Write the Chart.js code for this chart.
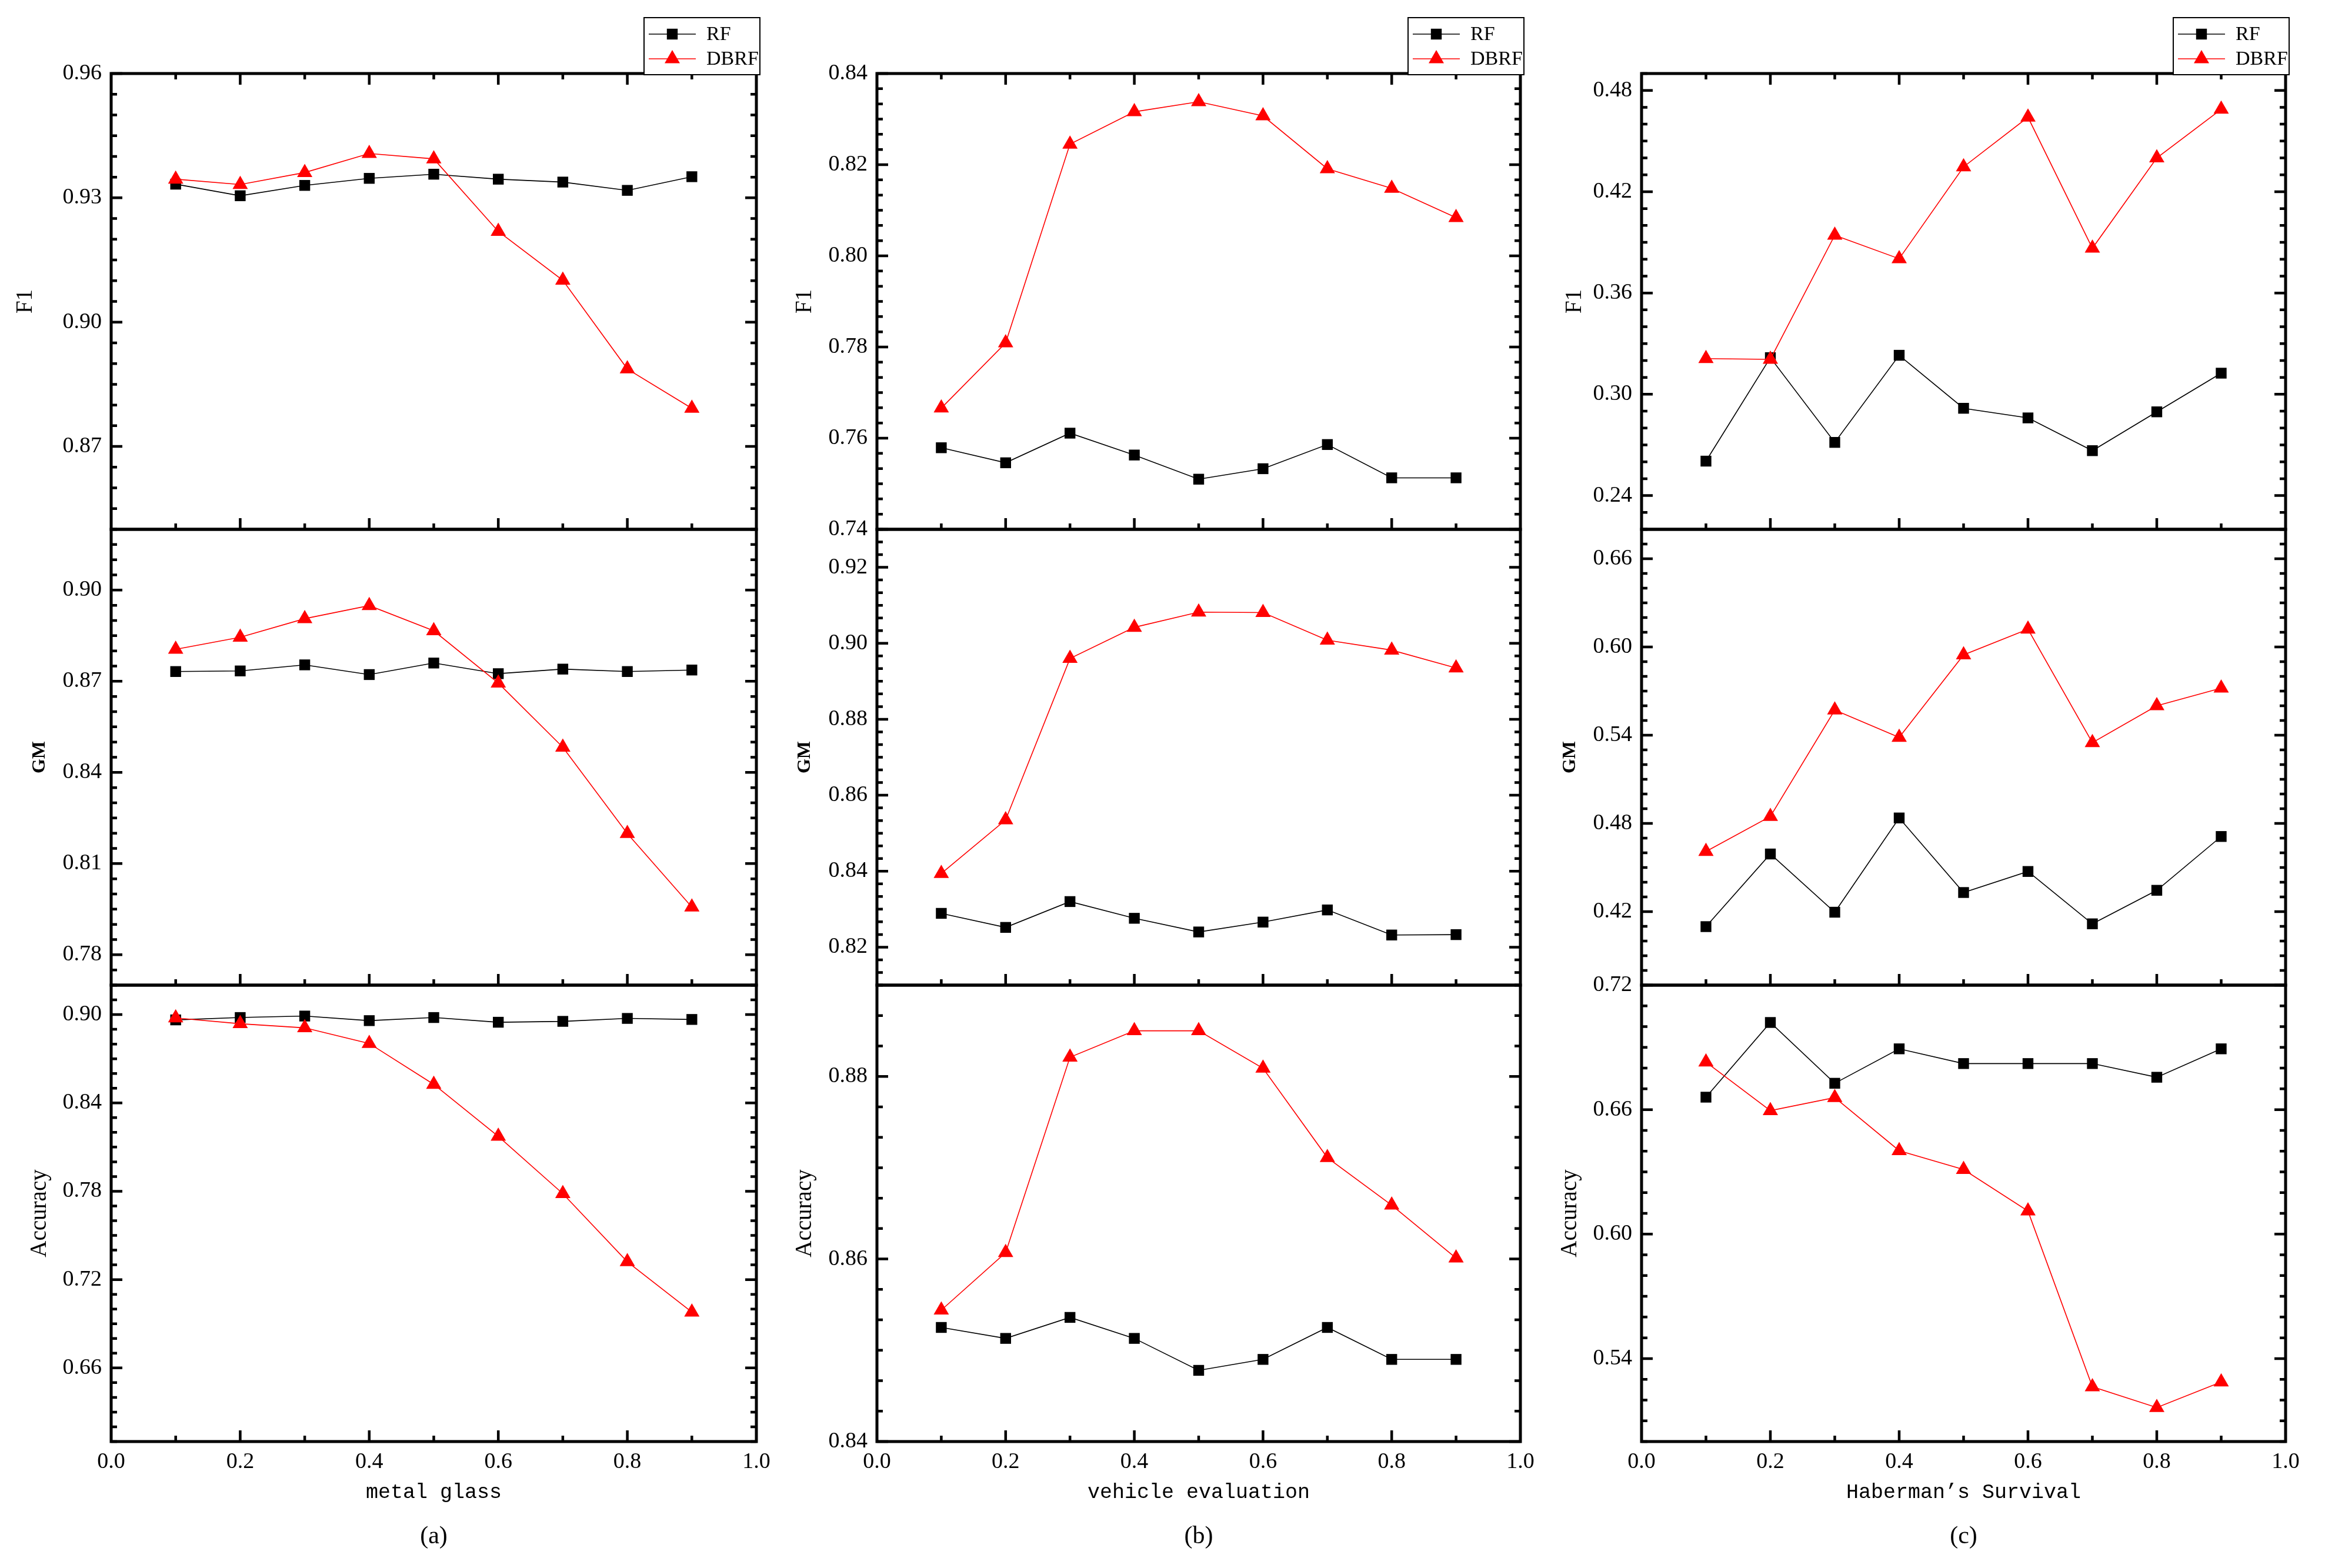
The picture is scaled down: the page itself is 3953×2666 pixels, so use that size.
<!DOCTYPE html>
<html>
<head>
<meta charset="utf-8">
<title>RF vs DBRF</title>
<script src="https://cdn.jsdelivr.net/npm/chart.js"></script>
<style>
  html, body { margin: 0; padding: 0; background: #fff; }
  body { width: 3953px; height: 2666px; position: relative; overflow: hidden; }
  canvas { position: absolute; }
</style>
</head>
<body>
<script>
const xValues = [0.1, 0.2, 0.3, 0.4, 0.5, 0.6, 0.7, 0.8, 0.9];
const xTicks = [0, 0.2, 0.4, 0.6, 0.8, 1.0];
const seriesNames = ["RF", "DBRF"];

// (a) metal glass
const glassF1Rf = [0.9333, 0.9305, 0.9330, 0.9347, 0.9357, 0.9345, 0.9338, 0.9318, 0.9351];
const glassF1Dbrf = [0.9345, 0.9332, 0.9361, 0.9407, 0.9394, 0.9219, 0.9101, 0.8887, 0.8792];
const glassGmRf = [0.8732, 0.8734, 0.8754, 0.8722, 0.8760, 0.8725, 0.8740, 0.8732, 0.8737];
const glassGmDbrf = [0.8805, 0.8845, 0.8906, 0.8949, 0.8866, 0.8694, 0.8483, 0.8199, 0.7957];
const glassAccRf = [0.8964, 0.8980, 0.8990, 0.8959, 0.8980, 0.8948, 0.8954, 0.8974, 0.8967];
const glassAccDbrf = [0.8977, 0.8938, 0.8910, 0.8804, 0.8526, 0.8173, 0.7784, 0.7321, 0.6979];
const glassF1Ticks = [0.87, 0.90, 0.93, 0.96];
const glassGmTicks = [0.78, 0.81, 0.84, 0.87, 0.90];
const glassAccTicks = [0.66, 0.72, 0.78, 0.84, 0.90];

// (b) vehicle evaluation
const vehicleF1Rf = [0.7579, 0.7546, 0.7611, 0.7563, 0.7510, 0.7533, 0.7586, 0.7513, 0.7513];
const vehicleF1Dbrf = [0.7666, 0.7809, 0.8245, 0.8316, 0.8338, 0.8307, 0.8191, 0.8148, 0.8084];
const vehicleGmRf = [0.8289, 0.8252, 0.8320, 0.8276, 0.8240, 0.8266, 0.8298, 0.8232, 0.8233];
const vehicleGmDbrf = [0.8394, 0.8535, 0.8960, 0.9042, 0.9082, 0.9081, 0.9008, 0.8982, 0.8935];
const vehicleAccRf = [0.8525, 0.8513, 0.8536, 0.8513, 0.8478, 0.8490, 0.8525, 0.8490, 0.8490];
const vehicleAccDbrf = [0.8544, 0.8607, 0.8821, 0.8850, 0.8850, 0.8809, 0.8711, 0.8659, 0.8601];
const vehicleF1Ticks = [0.74, 0.76, 0.78, 0.80, 0.82, 0.84];
const vehicleGmTicks = [0.82, 0.84, 0.86, 0.88, 0.90, 0.92];
const vehicleAccTicks = [0.84, 0.86, 0.88];

// (c) Haberman's Survival
const habermanF1Rf = [0.2604, 0.3217, 0.2715, 0.3231, 0.2917, 0.2860, 0.2666, 0.2896, 0.3125];
const habermanF1Dbrf = [0.3211, 0.3207, 0.3942, 0.3803, 0.4347, 0.4641, 0.3865, 0.4400, 0.4688];
const habermanGmRf = [0.4098, 0.4592, 0.4196, 0.4837, 0.4330, 0.4473, 0.4117, 0.4345, 0.4711];
const habermanGmDbrf = [0.4609, 0.4847, 0.5571, 0.5385, 0.5946, 0.6121, 0.5349, 0.5600, 0.5720];
const habermanAccRf = [0.6660, 0.7020, 0.6727, 0.6893, 0.6822, 0.6822, 0.6822, 0.6756, 0.6893];
const habermanAccDbrf = [0.6829, 0.6595, 0.6658, 0.6402, 0.6311, 0.6111, 0.5264, 0.5164, 0.5287];
const habermanF1Ticks = [0.24, 0.30, 0.36, 0.42, 0.48];
const habermanGmTicks = [0.42, 0.48, 0.54, 0.60, 0.66];
const habermanAccTicks = [0.54, 0.60, 0.66, 0.72];

// layout (page pixels)
const plotLeft = [189, 1491, 2791];
const plotRight = [1286, 2585, 3886];
const rowTop = [125, 900, 1675];
const rowBottom = [900, 1675, 2451];
const AXIS_W = 189;
const PAD_R = 40;
const PAD_V = 40;
const PAGE_H = 2666;

const serif = "'Liberation Serif', 'Times New Roman', serif";
const mono = "'Liberation Mono', 'DejaVu Sans Mono', monospace";

function drawMarker(ctx, style, x, y, r, color) {
  ctx.fillStyle = color;
  ctx.beginPath();
  if (style === "rect") {
    const s = r * Math.SQRT1_2;
    ctx.rect(x - s, y - s, 2 * s, 2 * s);
  } else {
    let rad = 0;
    ctx.moveTo(x + Math.sin(rad) * r, y - Math.cos(rad) * r);
    rad += (2 * Math.PI) / 3;
    ctx.lineTo(x + Math.sin(rad) * r, y - Math.cos(rad) * r);
    rad += (2 * Math.PI) / 3;
    ctx.lineTo(x + Math.sin(rad) * r, y - Math.cos(rad) * r);
    ctx.closePath();
  }
  ctx.fill();
}

// frame with inward major/minor ticks
const framePlugin = {
  id: "frame",
  afterDraw(chart, args, opts) {
    const { ctx, chartArea: a } = chart;
    const x = chart.scales.x;
    const y = chart.scales.y;
    ctx.save();
    ctx.strokeStyle = "#000";
    ctx.lineWidth = 4.5;
    ctx.beginPath();

    const yt = opts.yTicks;
    const yStep = (yt[1] - yt[0]) / 6;
    const k0 = Math.ceil((y.min - yt[0]) / yStep - 1e-6);
    const k1 = Math.floor((y.max - yt[0]) / yStep + 1e-6);
    for (let k = k0; k <= k1; k++) {
      const py = y.getPixelForValue(yt[0] + k * yStep);
      const len = ((k % 6) + 6) % 6 === 0 ? 19 : 10;
      ctx.moveTo(a.left, py);
      ctx.lineTo(a.left + len, py);
      ctx.moveTo(a.right, py);
      ctx.lineTo(a.right - len, py);
    }

    const xStep = (xTicks[1] - xTicks[0]) / 2;
    for (let k = 1; k < 10; k++) {
      const px = x.getPixelForValue(xTicks[0] + k * xStep);
      const len = k % 2 === 0 ? 19 : 10;
      ctx.moveTo(px, a.bottom);
      ctx.lineTo(px, a.bottom - len);
      if (opts.topTicks) {
        ctx.moveTo(px, a.top);
        ctx.lineTo(px, a.top + len);
      }
    }
    ctx.stroke();

    ctx.lineWidth = 5;
    ctx.strokeRect(a.left, a.top, a.right - a.left, a.bottom - a.top);
    ctx.restore();
  },
};

// boxed legend with line + marker samples
const legendBoxPlugin = {
  id: "legendBox",
  afterDraw(chart, args, opts) {
    if (!opts.show) return;
    const { ctx, chartArea: a } = chart;
    const bx = a.right - 191;
    const by = 30;
    const bw = 197;
    const bh = 97;
    ctx.save();
    ctx.fillStyle = "#fff";
    ctx.fillRect(bx, by, bw, bh);
    ctx.strokeStyle = "#000";
    ctx.lineWidth = 2;
    ctx.strokeRect(bx, by, bw, bh);
    chart.data.datasets.forEach((ds, i) => {
      const cy = by + 28 + i * 42;
      ctx.strokeStyle = ds.borderColor;
      ctx.lineWidth = 1.6;
      ctx.beginPath();
      ctx.moveTo(bx + 8, cy);
      ctx.lineTo(bx + 88, cy);
      ctx.stroke();
      drawMarker(ctx, ds.pointStyle, bx + 48, cy, ds.pointRadius, ds.backgroundColor);
      ctx.fillStyle = "#000";
      ctx.font = "34px " + serif;
      ctx.textAlign = "left";
      ctx.textBaseline = "middle";
      ctx.fillText(ds.label, bx + 106, cy + 1);
    });
    ctx.restore();
  },
};

function addCanvas(left, top, width, height) {
  const c = document.createElement("canvas");
  c.width = width;
  c.height = height;
  c.style.left = left + "px";
  c.style.top = top + "px";
  c.style.width = width + "px";
  c.style.height = height + "px";
  document.body.appendChild(c);
  return c;
}

function makePanel(p) {
  const col = p.col;
  const row = p.row;
  const plotW = plotRight[col] - plotLeft[col];
  const plotH = rowBottom[row] - rowTop[row];
  const left = plotLeft[col] - AXIS_W;
  const width = AXIS_W + plotW + PAD_R;
  const isBottom = row === 2;
  let top, height, padTop, padBottom;
  const xAxisH = 110;
  const captionSize = 42;
  const captionPadTop = 27;
  if (row === 0) {
    top = 0;
    height = rowBottom[0] + PAD_V;
    padTop = rowTop[0];
    padBottom = PAD_V;
  } else if (row === 1) {
    top = rowTop[1] - PAD_V;
    height = plotH + 2 * PAD_V;
    padTop = PAD_V;
    padBottom = PAD_V;
  } else {
    top = rowTop[2] - PAD_V;
    height = PAGE_H - top;
    padTop = PAD_V;
    padBottom = height - PAD_V - plotH - xAxisH - (captionPadTop + captionSize * 1.2);
  }

  const titleSize = p.titleBold ? 32 : 39;
  const titlePad = AXIS_W - p.titleOffset - (titleSize * 1.2) / 2;

  const canvas = addCanvas(left, top, width, height);
  return new Chart(canvas.getContext("2d"), {
    type: "line",
    data: {
      labels: xValues,
      datasets: [
        {
          label: seriesNames[0],
          data: p.rf,
          borderColor: "#000000",
          backgroundColor: "#000000",
          borderWidth: 1.6,
          pointStyle: "rect",
          pointRadius: 13,
          pointBorderWidth: 0,
          tension: 0,
          order: 1,
        },
        {
          label: seriesNames[1],
          data: p.dbrf,
          borderColor: "#ff0000",
          backgroundColor: "#ff0000",
          borderWidth: 1.6,
          pointStyle: "triangle",
          pointRadius: 15,
          pointBorderWidth: 0,
          tension: 0,
          order: 0,
        },
      ],
    },
    options: {
      responsive: false,
      animation: false,
      devicePixelRatio: 1,
      layout: { padding: { left: 0, right: PAD_R, top: padTop, bottom: padBottom } },
      plugins: {
        legend: { display: false },
        tooltip: { enabled: false },
        title: {
          display: isBottom,
          text: p.caption || "",
          position: "bottom",
          fullSize: false,
          color: "#000",
          font: { family: serif, size: captionSize, weight: "normal", lineHeight: 1.2 },
          padding: { top: captionPadTop, bottom: 0 },
        },
        frame: { yTicks: p.yTicks, topTicks: row === 0 },
        legendBox: { show: row === 0 },
      },
      scales: {
        x: {
          type: "linear",
          display: isBottom,
          min: 0,
          max: 1,
          bounds: "data",
          grid: { display: false, drawTicks: false },
          border: { display: false },
          afterBuildTicks: (scale) => {
            scale.ticks = xTicks.map((v) => ({ value: v }));
          },
          afterFit: (scale) => {
            scale.height = isBottom ? xAxisH : 0;
          },
          ticks: {
            autoSkip: false,
            maxRotation: 0,
            padding: 12,
            color: "#000",
            font: { family: serif, size: 38 },
            callback: (v) => Number(v).toFixed(1),
          },
          title: {
            display: isBottom,
            text: p.xTitle || "",
            color: "#000",
            font: { family: mono, size: 35, lineHeight: 1.2 },
            padding: { top: 4, bottom: 2 },
          },
        },
        y: {
          type: "linear",
          min: p.yMin,
          max: p.yMax,
          bounds: "data",
          grid: { display: false, drawTicks: false },
          border: { display: false },
          afterBuildTicks: (scale) => {
            scale.ticks = p.yTicks.map((v) => ({ value: v }));
          },
          afterFit: (scale) => {
            scale.width = AXIS_W;
          },
          ticks: {
            autoSkip: false,
            padding: 16,
            color: "#000",
            font: { family: serif, size: 38 },
            callback: (v) => Number(v).toFixed(2),
          },
          title: {
            display: true,
            text: p.yTitle,
            color: "#000",
            font: { family: serif, size: titleSize, weight: p.titleBold ? "bold" : "normal", lineHeight: 1.2 },
            padding: { top: titlePad, bottom: 0 },
          },
        },
      },
    },
    plugins: [framePlugin, legendBoxPlugin],
  });
}

document.addEventListener("DOMContentLoaded", function () {
  const panels = [
    // (a)
    { col: 0, row: 0, rf: glassF1Rf, dbrf: glassF1Dbrf, yMin: 0.85, yMax: 0.96, yTicks: glassF1Ticks, yTitle: "F1", titleOffset: 145 },
    { col: 0, row: 1, rf: glassGmRf, dbrf: glassGmDbrf, yMin: 0.77, yMax: 0.92, yTicks: glassGmTicks, yTitle: "GM", titleBold: true, titleOffset: 121 },
    { col: 0, row: 2, rf: glassAccRf, dbrf: glassAccDbrf, yMin: 0.61, yMax: 0.92, yTicks: glassAccTicks, yTitle: "Accuracy", titleOffset: 121, xTitle: "metal glass", caption: "(a)" },
    // (b)
    { col: 1, row: 0, rf: vehicleF1Rf, dbrf: vehicleF1Dbrf, yMin: 0.74, yMax: 0.84, yTicks: vehicleF1Ticks, yTitle: "F1", titleOffset: 122 },
    { col: 1, row: 1, rf: vehicleGmRf, dbrf: vehicleGmDbrf, yMin: 0.81, yMax: 0.93, yTicks: vehicleGmTicks, yTitle: "GM", titleBold: true, titleOffset: 122 },
    { col: 1, row: 2, rf: vehicleAccRf, dbrf: vehicleAccDbrf, yMin: 0.84, yMax: 0.89, yTicks: vehicleAccTicks, yTitle: "Accuracy", titleOffset: 122, xTitle: "vehicle evaluation", caption: "(b)" },
    // (c)
    { col: 2, row: 0, rf: habermanF1Rf, dbrf: habermanF1Dbrf, yMin: 0.22, yMax: 0.49, yTicks: habermanF1Ticks, yTitle: "F1", titleOffset: 113 },
    { col: 2, row: 1, rf: habermanGmRf, dbrf: habermanGmDbrf, yMin: 0.37, yMax: 0.68, yTicks: habermanGmTicks, yTitle: "GM", titleBold: true, titleOffset: 121 },
    { col: 2, row: 2, rf: habermanAccRf, dbrf: habermanAccDbrf, yMin: 0.50, yMax: 0.72, yTicks: habermanAccTicks, yTitle: "Accuracy", titleOffset: 121, xTitle: "Haberman\u2019s Survival", caption: "(c)" },
  ];

  panels.forEach(function (p) {
    try {
      makePanel(p);
    } catch (error) {
      console.error("Failed to draw panel:", error);
    }
  });
});
</script>
</body>
</html>
